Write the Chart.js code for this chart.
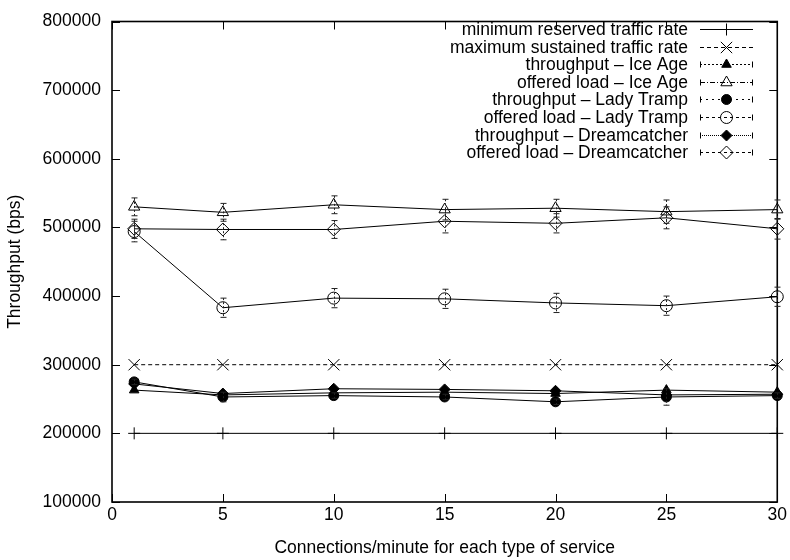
<!DOCTYPE html>
<html>
<head>
<meta charset="utf-8">
<script src="https://cdn.jsdelivr.net/npm/chart.js@4.4.1/dist/chart.umd.min.js"></script>
<style>
  html, body { margin: 0; padding: 0; background: #fff; }
  #wrap { width: 790px; height: 560px; }
</style>
</head>
<body>
<div id="wrap"><canvas id="c" width="790" height="560"></canvas></div>
<script>
// ---- data ----
const xValues = [1, 5, 10, 15, 20, 25, 30];
const minReserved = [200000, 200000, 200000, 200000, 200000, 200000, 200000];
const maxSustained = [300000, 300000, 300000, 300000, 300000, 300000, 300000];
const iceAgeThroughput = [263000, 256000, 259000, 260000, 258000, 263000, 260000];
const iceAgeOffered = [530000, 522000, 533000, 526000, 528000, 523000, 526000];
const ladyTrampThroughput = [275000, 253000, 255000, 253000, 246000, 253000, 255000];
const ladyTrampOffered = [494000, 383000, 397000, 396000, 390000, 386000, 399000];
const dreamThroughput = [272000, 258000, 265000, 264000, 262000, 256000, 257000];
const dreamOffered = [498000, 497000, 497000, 509000, 506000, 514000, 498000];

const iceAgeOfferedErr = [13000, 13000, 13000, 15000, 13000, 17000, 14000];
const ladyTrampOfferedErr = [15000, 14000, 14000, 14000, 14000, 14000, 14000];
const dreamOfferedErr = [14000, 15000, 13000, 17000, 14000, 16000, 15000];
const ladyTrampThroughputErr = [4000, 7000, 4000, 4000, 4000, 12000, 4000];

const seriesLabels = [
  'minimum reserved traffic rate',
  'maximum sustained traffic rate',
  'throughput \u2013 Ice Age',
  'offered load \u2013 Ice Age',
  'throughput \u2013 Lady Tramp',
  'offered load \u2013 Lady Tramp',
  'throughput \u2013 Dreamcatcher',
  'offered load \u2013 Dreamcatcher'
];
const xTitle = 'Connections/minute for each type of service';
const yTitle = 'Throughput (bps)';

const FONT = '"Liberation Sans", Arial, Helvetica, sans-serif';
const FS = 17.5;

function pts(vals) { return xValues.map((x, i) => ({ x: x, y: vals[i] })); }

function ds(label, vals, style, extra) {
  return Object.assign({
    label: label,
    data: pts(vals),
    borderColor: '#000',
    borderWidth: 1,
    pointBorderColor: '#000',
    pointBorderWidth: 1,
    pointStyle: style.ps,
    pointRadius: style.r,
    pointBackgroundColor: style.fill,
    tension: 0,
    clip: false,
    fill: false
  }, extra || {});
}

const datasets = [
  ds(seriesLabels[0], minReserved, { ps: 'cross', r: 6, fill: '#000' }, { legendDash: [], caps: false }),
  ds(seriesLabels[1], maxSustained, { ps: 'crossRot', r: 8, fill: '#000' }, { borderDash: [4, 3], legendDash: [4, 3], caps: false }),
  ds(seriesLabels[2], iceAgeThroughput, { ps: 'triangle', r: 5.5, fill: '#000' }, { legendDash: [2, 2], caps: true }),
  ds(seriesLabels[3], iceAgeOffered, { ps: 'triangle', r: 6.5, fill: 'rgba(0,0,0,0)' }, { legendDash: [5, 2, 1, 2], caps: true, errors: iceAgeOfferedErr }),
  ds(seriesLabels[4], ladyTrampThroughput, { ps: 'circle', r: 5, fill: '#000' }, { legendDash: [2, 4], caps: true, errors: ladyTrampThroughputErr }),
  ds(seriesLabels[5], ladyTrampOffered, { ps: 'circle', r: 6, fill: 'rgba(0,0,0,0)' }, { legendDash: [3, 3], caps: true, errors: ladyTrampOfferedErr }),
  ds(seriesLabels[6], dreamThroughput, { ps: 'rectRot', r: 5.5, fill: '#000' }, { legendDash: [1, 1], caps: true }),
  ds(seriesLabels[7], dreamOffered, { ps: 'rectRot', r: 6.5, fill: 'rgba(0,0,0,0)' }, { legendDash: [3, 3], caps: true, errors: dreamOfferedErr })
];

const framePlugin = {
  id: 'frame',
  beforeDatasetsDraw(chart) {
    const { ctx, chartArea: a, scales } = chart;
    const x = scales.x, y = scales.y;
    ctx.save();
    ctx.strokeStyle = '#000';
    ctx.lineWidth = 1;
    ctx.setLineDash([]);
    const T = 8;
    ctx.beginPath();
    x.ticks.forEach(t => {
      const px = Math.round(x.getPixelForValue(t.value)) + 0.5;
      ctx.moveTo(px, a.bottom); ctx.lineTo(px, a.bottom - T);
      ctx.moveTo(px, a.top); ctx.lineTo(px, a.top + T);
    });
    y.ticks.forEach(t => {
      const py = Math.round(y.getPixelForValue(t.value)) + 0.5;
      ctx.moveTo(a.left, py); ctx.lineTo(a.left + T, py);
      ctx.moveTo(a.right, py); ctx.lineTo(a.right - T, py);
    });
    ctx.stroke();
    ctx.lineWidth = 1.6;
    ctx.strokeRect(a.left, a.top, a.right - a.left, a.bottom - a.top);
    ctx.restore();
  }
};

const errorPlugin = {
  id: 'errbars',
  afterDatasetsDraw(chart) {
    const { ctx, scales } = chart;
    const x = scales.x, y = scales.y;
    ctx.save();
    ctx.strokeStyle = '#222';
    ctx.lineWidth = 1;
    chart.data.datasets.forEach(d => {
      if (!d.errors) return;
      d.data.forEach((p, i) => {
        const e = d.errors[i];
        const px = Math.round(x.getPixelForValue(p.x)) + 0.5;
        const y1 = y.getPixelForValue(p.y + e);
        const y2 = y.getPixelForValue(p.y - e);
        ctx.setLineDash([2, 2]);
        ctx.beginPath();
        ctx.moveTo(px, y1); ctx.lineTo(px, y2);
        ctx.stroke();
        ctx.setLineDash([]);
        ctx.beginPath();
        ctx.moveTo(px - 3, y1); ctx.lineTo(px + 3, y1);
        ctx.moveTo(px - 3, y2); ctx.lineTo(px + 3, y2);
        ctx.stroke();
      });
    });
    ctx.restore();
  }
};

function drawMarker(ctx, d, cx, cy) {
  if (Chart.helpers && Chart.helpers.drawPoint) {
    ctx.fillStyle = d.pointBackgroundColor;
    ctx.strokeStyle = '#000';
    ctx.lineWidth = 1;
    Chart.helpers.drawPoint(ctx, { pointStyle: d.pointStyle, rotation: 0, radius: d.pointRadius, borderWidth: 1 }, cx, cy);
  }
}

const legendPlugin = {
  id: 'customLegend',
  afterDraw(chart) {
    const ctx = chart.ctx;
    const textRight = 688, lx1 = 700, lx2 = 753, top = 29, step = 17.6;
    ctx.save();
    ctx.font = FS + 'px ' + FONT;
    ctx.textAlign = 'right';
    ctx.textBaseline = 'middle';
    ctx.fillStyle = '#000';
    chart.data.datasets.forEach((d, i) => {
      const yy = Math.round(top + i * step) + 0.5;
      ctx.fillStyle = '#000';
      ctx.fillText(d.label, textRight, yy + 1);
      ctx.strokeStyle = '#000';
      ctx.lineWidth = 1;
      ctx.setLineDash(d.legendDash || []);
      ctx.beginPath();
      ctx.moveTo(lx1, yy); ctx.lineTo(lx2, yy);
      ctx.stroke();
      ctx.setLineDash([]);
      if (d.caps) {
        ctx.beginPath();
        ctx.moveTo(lx1 + 0.5, yy - 3); ctx.lineTo(lx1 + 0.5, yy + 3);
        ctx.moveTo(lx2 - 0.5, yy - 3); ctx.lineTo(lx2 - 0.5, yy + 3);
        ctx.stroke();
      }
      drawMarker(ctx, d, (lx1 + lx2) / 2, yy);
    });
    ctx.restore();
  }
};

new Chart(document.getElementById('c'), {
  type: 'line',
  data: { datasets: datasets },
  options: {
    responsive: false,
    animation: false,
    events: [],
    layout: { padding: { left: 0, right: 9, top: 13, bottom: 0 } },
    plugins: { legend: { display: false }, tooltip: { enabled: false } },
    scales: {
      x: {
        type: 'linear',
        min: 0, max: 30,
        afterFit(s) { s.height = 58; },
        ticks: { stepSize: 5, color: '#000', padding: 3, maxRotation: 0, font: { family: FONT, size: FS }, callback: v => String(v) },
        grid: { display: false, drawTicks: false },
        border: { display: false },
        title: { display: true, text: xTitle, color: '#000', padding: { top: 0, bottom: 1 }, font: { family: FONT, size: FS } }
      },
      y: {
        type: 'linear',
        min: 100000, max: 800000,
        afterFit(s) { s.width = 112; },
        ticks: { stepSize: 100000, color: '#000', padding: 11, font: { family: FONT, size: FS }, callback: v => String(v) },
        grid: { display: false, drawTicks: false },
        border: { display: false },
        title: { display: true, text: yTitle, color: '#000', padding: { top: 5, bottom: 0 }, font: { family: FONT, size: FS } }
      }
    }
  },
  plugins: [framePlugin, errorPlugin, legendPlugin]
});
</script>
</body>
</html>
